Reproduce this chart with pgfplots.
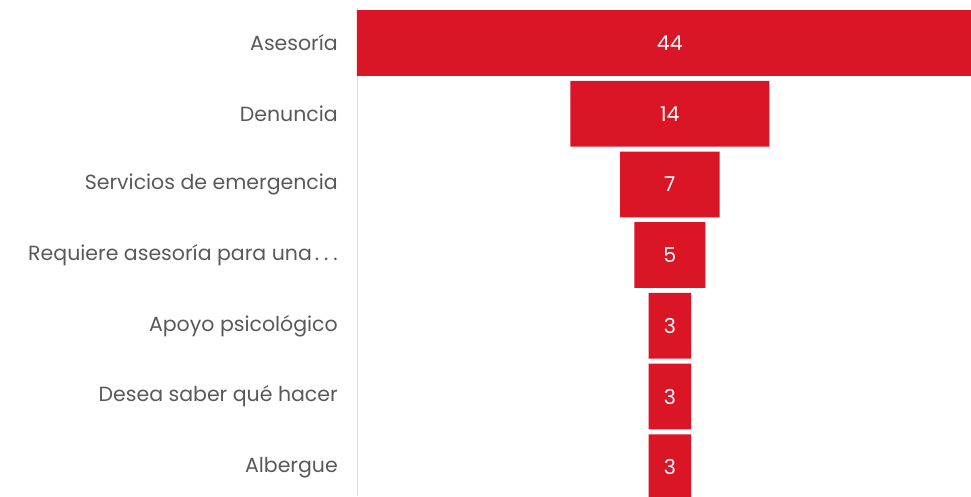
\documentclass[border=0pt]{standalone}
\usepackage{fontspec}
\setmainfont{Poppins}
\usepackage{pgfplots}
\usepackage{pgfplotstable}
\pgfplotsset{compat=1.18}

\definecolor{funnelred}{RGB}{218,22,38}
\definecolor{labelgray}{RGB}{89,89,89}
\definecolor{axisgray}{RGB}{217,217,217}

% position, count
\pgfplotstableread{
pos v
0 44
1 14
2 7
3 5
4 3
5 3
6 3
}\funneldata

\newcommand{\catfont}{\fontsize{20.5bp}{24bp}\selectfont}

\begin{document}
\begin{tikzpicture}
\begin{axis}[
  scale only axis,
  width=614bp, height=488bp,
  xbar stacked,
  bar width=0.93,
  y dir=reverse,
  xmin=0, xmax=43.18,
  ymin=-0.495, ymax=6.407,
  hide x axis,
  axis y line=left,
  y axis line style={-, draw=axisgray, line width=0.8bp},
  ytick={0,...,6},
  yticklabels={Asesoría, Denuncia, Servicios de emergencia, Requiere asesoría para una\hspace{3bp}.\hspace{5bp}.\hspace{5bp}., Apoyo psicológico, Desea saber qué hacer, Albergue},
  major tick length=0pt,
  yticklabel style={font=\catfont, text=labelgray, anchor=east, inner sep=0pt, xshift=-19bp},
  clip=false,
]
% invisible offset so each bar is centred on the funnel axis
\addplot[draw=none, fill=none, forget plot]
  table[x expr=22-0.5*\thisrow{v}, y=pos] {\funneldata};
% visible funnel segments
\addplot[fill=funnelred, draw=none,
  nodes near coords, point meta=explicit symbolic,
  nodes near coords style={text=white, font=\catfont}]
  table[x=v, y=pos, meta=v] {\funneldata};
\end{axis}
\pgfresetboundingbox
\path[use as bounding box] ([xshift=-357bp]current axis.south west) rectangle ([yshift=8bp]current axis.north east);
\end{tikzpicture}
\end{document}
